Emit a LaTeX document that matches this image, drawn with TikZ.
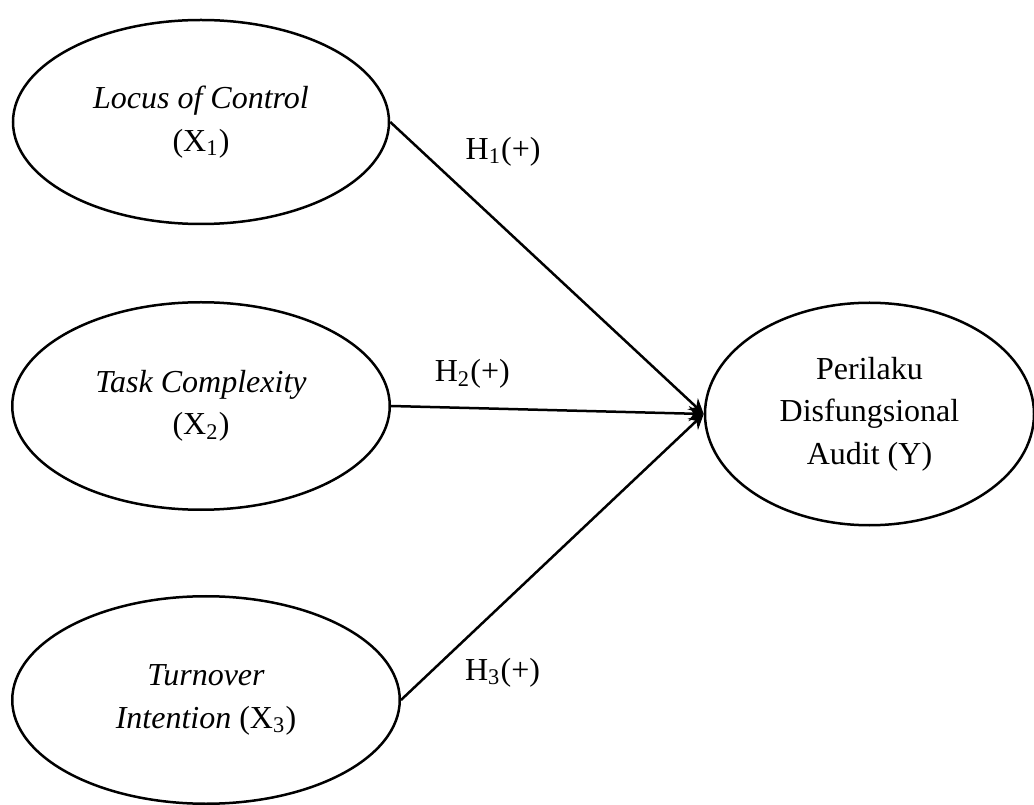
\documentclass[tikz,border=0pt]{standalone}
\usepackage{fontspec}
\setmainfont{Liberation Serif}
\usepackage{tikz}
\usetikzlibrary{arrows,arrows.meta,%
                shapes,positioning}

\begin{document}
\begin{tikzpicture}[x=0.4pt,y=-0.4pt]
  \useasboundingbox (0,0) rectangle (1034,805);
  \tikzset{VarStyle/.style = {draw=black, line width=1pt, shape=ellipse, inner sep=0pt, align=center, text=black,
                              font=\fontsize{12.8}{17}\selectfont}}
  \tikzset{EdgeStyle/.style = {line width=1pt, -{Stealth[length=6pt, width=6pt]}, shorten <=0pt, shorten >=0pt}}
  \tikzset{HypStyle/.style = {font=\fontsize{12.8}{15}\selectfont}}

  \node(X1)[VarStyle, minimum width=150.4pt, minimum height=81.6pt] at (201,122)
       {\textit{Locus of Control}\\(X\textsubscript{1})};
  \node(X2)[VarStyle, minimum width=151pt, minimum height=83pt] at (201,406)
       {\textit{Task Complexity}\\(X\textsubscript{2})};
  \node(X3)[VarStyle, minimum width=155pt, minimum height=83pt] at (206,700)
       {\textit{Turnover}\\\textit{Intention} (X\textsubscript{3})};
  \node(Y)[VarStyle, minimum width=131.6pt, minimum height=89pt] at (869.5,414)
       {Perilaku\\Disfungsional\\Audit (Y)};

     \draw[EdgeStyle](X1.east) to node[HypStyle, pos=0.21, above right, yshift=3pt]{H\textsubscript{1}(+)} (Y.west);
     \draw[EdgeStyle](X2.east) to node[HypStyle, pos=0.26, above, yshift=4pt]{H\textsubscript{2}(+)} (Y.west);
     \draw[EdgeStyle](X3.east) to node[HypStyle, pos=0.18, below right]{H\textsubscript{3}(+)} (Y.west);

 \end{tikzpicture}
\end{document}
